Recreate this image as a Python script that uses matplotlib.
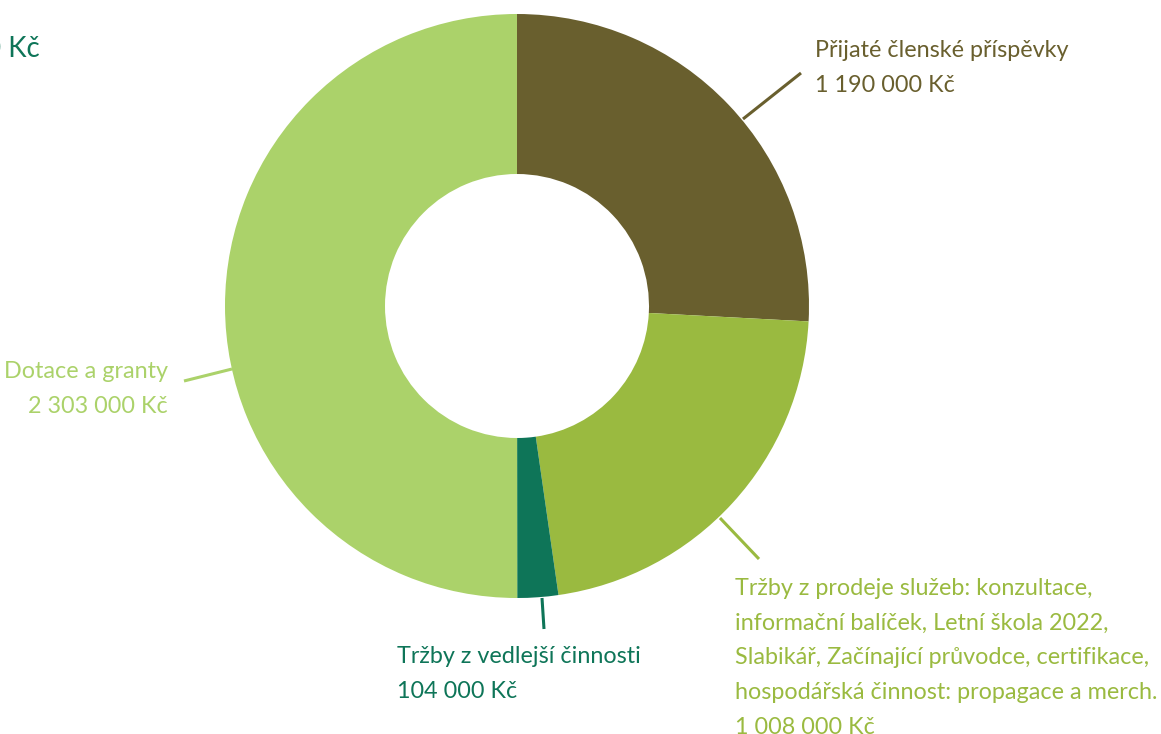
import matplotlib.pyplot as plt

plt.rcParams['font.family'] = ['Lato', 'DejaVu Sans']

# ----- data -----
categories = ['Přijaté členské příspěvky',
              'Tržby z prodeje služeb: konzultace,\ninformační balíček, Letní škola 2022,\n'
              'Slabikář, Začínající průvodce, certifikace,\nhospodářská činnost: propagace a merch.',
              'Tržby z vedlejší činnosti',
              'Dotace a granty']
values = [1190000, 1008000, 104000, 2303000]
colors = ['#695f2e', '#9aba40', '#0e7558', '#abd26a']
total_label = '4 605 000 Kč'

W, H = 1161, 734


def kc(v):
    return f'{v:,}'.replace(',', ' ') + ' Kč'


fig = plt.figure(figsize=(W / 100, H / 100), dpi=100)
ax = fig.add_axes([0, 0, 1, 1])

# y je obrácená, takže counterclock=True kreslí po směru hodinových ručiček
ax.pie(values, colors=colors, startangle=-90, counterclock=True,
       center=(517, 306), radius=292,
       wedgeprops=dict(width=292 - 132, linewidth=0))
ax.set_xlim(0, W)
ax.set_ylim(H, 0)  # pixelové souřadnice, y dolů
ax.set_aspect('equal')
ax.axis('off')

# popisky: (start čáry, konec čáry, x textu, baseline první řádky, zarovnání)
labels_layout = [
    ((743, 119), (801, 73), 815, 57, 'left'),
    ((720, 518), (759, 559), 735, 595, 'left'),
    ((542, 598), (544, 629), 397, 663, 'left'),
    ((232, 369), (184, 381), 168, 378, 'right'),
]
line_h = 34.7
fs = 16.8

for name, val, col, (p0, p1, tx, ty, ha) in zip(categories, values, colors, labels_layout):
    ax.plot([p0[0], p1[0]], [p0[1], p1[1]], color=col, lw=2.2, solid_capstyle='butt')
    lines = name.split('\n') + [kc(val)]
    for i, ln in enumerate(lines):
        ax.text(tx, ty + i * line_h, ln, color=col, fontsize=fs, ha=ha, va='baseline')

ax.text(40, 57, total_label, color='#0e7558', fontsize=20, ha='right', va='baseline')

fig.savefig('out.png', dpi=100)
